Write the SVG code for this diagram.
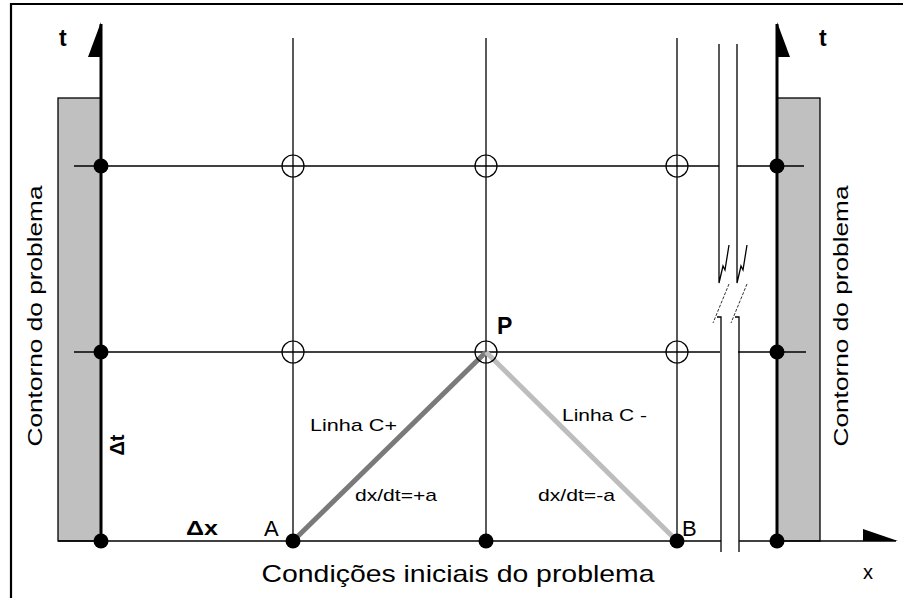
<svg xmlns="http://www.w3.org/2000/svg" width="903" height="598" viewBox="0 0 903 598">
<style>
  text { font-family: "Liberation Sans", Arial, sans-serif; fill: #000; }
  .grid { stroke: #000; stroke-width: 1.3; fill: none; }
  .axis { stroke: #000; stroke-width: 3; fill: none; }
  .wall { fill: #c0c0c0; stroke: #000; stroke-width: 1.3; }
  .open { fill: none; stroke: #000; stroke-width: 1.2; }
  .dot { fill: #000; }
  .lbl { font-size: 17px; }
  .big { font-size: 22px; }
  .bold { font-weight: bold; }
</style>
<rect width="903" height="598" fill="#fff"/>
<!-- frame -->
<path d="M11,598 V4 H903" fill="none" stroke="#000" stroke-width="2.2"/>

<g id="wall-left">
  <rect class="wall" x="58" y="98" width="43" height="443"/>
  <text transform="translate(42,316) rotate(-90)" text-anchor="middle" font-size="21" textLength="261" lengthAdjust="spacingAndGlyphs">Contorno do problema</text>
</g>
<g id="wall-right">
  <rect class="wall" x="777" y="98" width="43" height="443"/>
  <text transform="translate(848,316) rotate(-90)" text-anchor="middle" font-size="21" textLength="261" lengthAdjust="spacingAndGlyphs">Contorno do problema</text>
</g>

<g id="grid">
  <line class="grid" x1="293" y1="38" x2="293" y2="541"/>
  <line class="grid" x1="486" y1="38" x2="486" y2="541"/>
  <line class="grid" x1="677" y1="38" x2="677" y2="541"/>
  <line class="grid" x1="74" y1="166" x2="719" y2="166"/>
  <line class="grid" x1="737" y1="166" x2="804" y2="166"/>
  <line class="grid" x1="74" y1="352" x2="720" y2="352"/>
  <line class="grid" x1="738" y1="352" x2="806" y2="352"/>
  <line class="grid" x1="58" y1="541" x2="721" y2="541"/>
  <line class="grid" x1="739" y1="541" x2="896" y2="541"/>
</g>

<g id="break">
  <path class="grid" d="M719,44 V283 L723,266 L725,270 L729,245"/>
  <path class="grid" d="M737,44 V283 L741,266 L743,270 L747,245"/>
  <path d="M729,284 L713,323 M747,284 L731,323" stroke="#333" stroke-width="1" stroke-dasharray="3,1.5" fill="none"/>
  <path class="grid" d="M717,317 H721 V552"/>
  <path class="grid" d="M735,317 H739 V552"/>
</g>

<g id="axes">
  <line class="axis" x1="101" y1="24" x2="101" y2="541"/>
  <polygon points="101,22 101,57 88,57" fill="#000"/>
  <line class="axis" x1="777" y1="24" x2="777" y2="541"/>
  <polygon points="777,22 777,57 790,57" fill="#000"/>
  <polygon points="863,529 898,541 863,541" fill="#000"/>
  <text class="bold" x="59" y="46" font-size="23">t</text>
  <text class="bold" x="819" y="46" font-size="23">t</text>
  <text x="868" y="579" font-size="20" text-anchor="middle">x</text>
</g>

<g id="connectors">
  <line id="c-plus" x1="293" y1="541" x2="486" y2="352" stroke="#7a7a7a" stroke-width="5"/>
  <line id="c-minus" x1="486" y1="352" x2="677" y2="541" stroke="#bdbdbd" stroke-width="5"/>
</g>

<g id="nodes">
  <circle class="open" cx="293" cy="166" r="11"/>
  <circle class="open" cx="486" cy="166" r="11"/>
  <circle class="open" cx="677" cy="166" r="11"/>
  <circle class="open" cx="293" cy="352" r="11"/>
  <circle class="open" cx="677" cy="352" r="11"/>
  <g id="node-P">
    <circle class="open" cx="486" cy="352" r="11"/>
    <text class="bold" x="497" y="334" font-size="23">P</text>
  </g>
  <circle class="dot" cx="101" cy="166" r="7.5"/>
  <circle class="dot" cx="101" cy="352" r="7.5"/>
  <circle class="dot" cx="101" cy="541" r="7.5"/>
  <circle class="dot" cx="486" cy="541" r="7.5"/>
  <circle class="dot" cx="777" cy="166" r="7.5"/>
  <circle class="dot" cx="777" cy="352" r="7.5"/>
  <circle class="dot" cx="777" cy="541" r="7.5"/>
  <g id="node-A">
    <circle class="dot" cx="293" cy="541" r="7.5"/>
    <text class="big" x="264" y="536">A</text>
  </g>
  <g id="node-B">
    <circle class="dot" cx="677" cy="541" r="7.5"/>
    <text class="big" x="682" y="536">B</text>
  </g>
</g>

<g id="labels">
  <text class="lbl" x="310" y="431" textLength="87" lengthAdjust="spacingAndGlyphs">Linha C+</text>
  <text class="lbl" x="355" y="501" textLength="82" lengthAdjust="spacingAndGlyphs">dx/dt=+a</text>
  <text class="lbl" x="562" y="421" textLength="85" lengthAdjust="spacingAndGlyphs">Linha C -</text>
  <text class="lbl" x="538" y="501" textLength="77" lengthAdjust="spacingAndGlyphs">dx/dt=-a</text>
  <text class="bold" x="186" y="535" font-size="20" textLength="32" lengthAdjust="spacingAndGlyphs">Δx</text>
  <text class="bold" transform="translate(124,445) rotate(-90)" text-anchor="middle" font-size="20">Δt</text>
  <text x="458" y="582" font-size="24" text-anchor="middle" textLength="393" lengthAdjust="spacingAndGlyphs">Condições iniciais do problema</text>
</g>
</svg>
